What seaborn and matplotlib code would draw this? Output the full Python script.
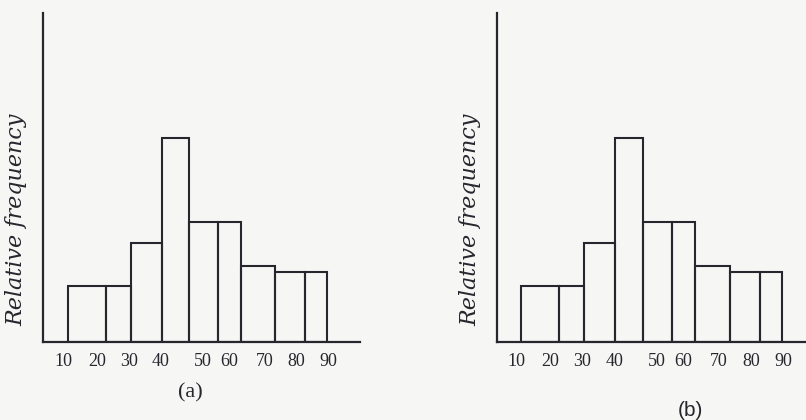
import numpy as np
import pandas as pd
import matplotlib
matplotlib.use("Agg")
import matplotlib.pyplot as plt
import seaborn as sns

# ---- data ----
bin_edges = [11.6, 23.0, 30.4, 39.8, 48.1, 56.7, 63.7, 74.1, 83.0, 89.7]
rel_freq = [0.17, 0.17, 0.30, 0.62, 0.365, 0.365, 0.23, 0.213, 0.213]
tick_values = [10, 20.2, 29.8, 39.5, 52.3, 60.2, 70.9, 80.5, 90]
tick_labels = ["10", "20", "30", "40", "50", "60", "70", "80", "90"]
panel_labels = ["(a)", "(b)"]
y_label = "Relative frequency"

centers = [(a + b) / 2 for a, b in zip(bin_edges[:-1], bin_edges[1:])]
df = pd.DataFrame({"value": centers, "freq": rel_freq})

sns.set_style("white")
plt.rcParams["font.family"] = ["Liberation Serif", "DejaVu Serif"]

INK = "#26262e"
BG = "#f6f6f4"

fig = plt.figure(figsize=(8.06, 4.2), dpi=100, facecolor=BG)

# axes rectangles in figure fractions (from pixel positions)
rects = [
    [43 / 806, 78 / 420, 317 / 806, 329 / 420],
    [497 / 806, 78 / 420, 309 / 806, 329 / 420],
]
xlims = [(3.96, 99.66), (4.3, 96.9)]
label_x = [-0.048, -0.05]

for i, rect in enumerate(rects):
    ax = fig.add_axes(rect)
    ax.set_facecolor("none")
    sns.histplot(data=df, x="value", weights="freq", bins=bin_edges,
                 fill=False, element="bars", color=INK, linewidth=1.5, ax=ax)
    ax.set_xlim(*xlims[i])
    ax.set_ylim(0, 1.0)
    for s in ["top", "right"]:
        ax.spines[s].set_visible(False)
    for s in ["left", "bottom"]:
        ax.spines[s].set_color(INK)
        ax.spines[s].set_linewidth(1.6)
    ax.set_xticks(tick_values)
    ax.set_xticklabels(tick_labels)
    ax.set_xticks([96.7], minor=True)
    ax.tick_params(axis="x", which="major", length=0, pad=8, labelsize=13,
                   labelcolor=INK)
    ax.tick_params(axis="x", which="minor", direction="in", length=7,
                   width=1.5, color=INK)
    ax.set_yticks([])
    ax.set_xlabel("")
    ax.set_ylabel(y_label, fontsize=16, fontstyle="italic",
                  family=["DejaVu Serif"], color=INK)
    ax.yaxis.set_label_coords(label_x[i], 0.371)

fig.text(190 / 806, 1 - 393 / 420, panel_labels[0], ha="center", va="center",
         fontsize=16, color=INK)
fig.text(690 / 806, 1 - 410 / 420, panel_labels[1], ha="center", va="center",
         fontsize=15, color=INK, family=["Liberation Sans", "DejaVu Sans"])

fig.savefig("out.png", dpi=100, facecolor=BG)
